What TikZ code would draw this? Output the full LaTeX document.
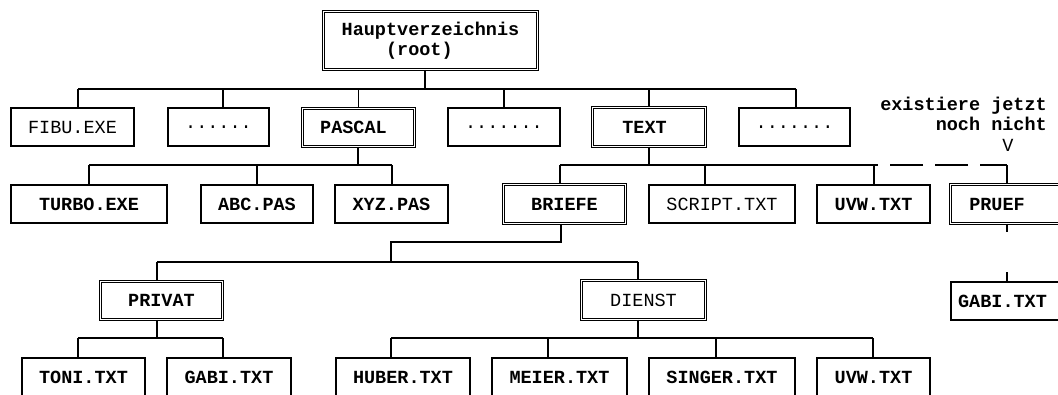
\documentclass[tikz,border=0pt]{standalone}
\usepackage{fontspec}
\setmainfont{Liberation Mono}
\newcommand{\fsz}{\fontsize{18.5}{20}\selectfont}
\tikzset{
  fbox/.style={draw, line width=1.1pt, inner sep=0pt, font=\fsz},
  dbox/.style={draw, double, line width=0.9pt, double distance=1.6pt, inner sep=0pt, font=\fsz},
  conn/.style={line width=1.1pt},
  gapline/.style={line width=1.1pt, dash pattern=on 33pt off 12pt, dash phase=6pt},
  note/.style={inner sep=0pt, font=\fsz\bfseries},
}
\begin{document}
\begin{tikzpicture}[x=1pt,y=-1pt]
\useasboundingbox (0,0) rectangle (1058,394);
\clip (0,0) rectangle (1058,394);
\fill[white] (0,0) rectangle (1058,394);

% level 0
\node[dbox, minimum width=214pt, minimum height=58pt, align=left] (root) at (430.5,40.5)
  {\bfseries Hauptverzeichnis\\\bfseries\phantom{Haup}(root)};

% level 1
\node[fbox, minimum width=123pt, minimum height=38pt] (fibu) at (72.5,127) {FIBU.EXE};
\node[fbox, minimum width=101pt, minimum height=38pt] (dotsa) at (218.5,127) {......};
\node[dbox, minimum width=112pt, minimum height=38pt] (pascal) at (358.5,127.5) {\bfseries PASCAL\hspace*{10pt}};
\node[fbox, minimum width=112pt, minimum height=38pt] (dotsb) at (504,127) {.......};
\node[dbox, minimum width=113pt, minimum height=39pt] (text) at (649,127) {\bfseries TEXT\hspace*{9pt}};
\node[fbox, minimum width=111pt, minimum height=38pt] (dotsc) at (794.5,127) {.......};

% level 2
\node[fbox, minimum width=156pt, minimum height=38pt] (turbo) at (89,204) {\bfseries TURBO.EXE};
\node[fbox, minimum width=112pt, minimum height=38pt] (abc) at (257,204) {\bfseries ABC.PAS};
\node[fbox, minimum width=113pt, minimum height=38pt] (xyz) at (391.5,204) {\bfseries XYZ.PAS};
\node[dbox, minimum width=122pt, minimum height=39pt] (briefe) at (564.5,204) {\bfseries BRIEFE};
\node[fbox, minimum width=146pt, minimum height=38pt] (script) at (722,204) {SCRIPT.TXT};
\node[fbox, minimum width=113pt, minimum height=38pt] (uvwa) at (873.5,204) {\bfseries UVW.TXT};
\node[dbox, minimum width=113pt, minimum height=39pt] (pruef) at (1007,204) {\bfseries PRUEF\hspace*{20pt}};

% note above PRUEF
\node[note, align=right, anchor=north east] (exist) at (1047,97) {existiere jetzt\\noch nicht};
\node[inner sep=0pt, font=\fsz] (vmark) at (1008,145) {V};

% level 3
\node[dbox, minimum width=122pt, minimum height=38pt] (privat) at (161.5,300.5) {\bfseries PRIVAT};
\node[dbox, minimum width=124pt, minimum height=39pt] (dienst) at (643.5,300) {DIENST};
\node[fbox, minimum width=112pt, minimum height=38pt] (gabib) at (1007,301) {\bfseries GABI.TXT\hspace*{9pt}};

% level 4
\node[fbox, minimum width=123pt, minimum height=38pt] (toni) at (83.5,377) {\bfseries TONI.TXT};
\node[fbox, minimum width=124pt, minimum height=38pt] (gabia) at (229,377) {\bfseries GABI.TXT};
\node[fbox, minimum width=134pt, minimum height=38pt] (huber) at (403,377) {\bfseries HUBER.TXT};
\node[fbox, minimum width=135pt, minimum height=38pt] (meier) at (559.5,377) {\bfseries MEIER.TXT};
\node[fbox, minimum width=146pt, minimum height=38pt] (singer) at (722,377) {\bfseries SINGER.TXT};
\node[fbox, minimum width=113pt, minimum height=38pt] (uvwb) at (873.5,377) {\bfseries UVW.TXT};

% bus coordinates
\coordinate (busaL) at (78,89);   \coordinate (busaR) at (796,89);
\coordinate (busbL) at (89,165);  \coordinate (busbR) at (392,165);
\coordinate (buscL) at (560,165); \coordinate (buscR) at (878,165);
\coordinate (buscD) at (1007,165);
\coordinate (jog) at (391,242);   \coordinate (jogb) at (391,262);
\coordinate (busdL) at (157,262); \coordinate (busdR) at (638,262);
\coordinate (buseL) at (78,338);  \coordinate (buseR) at (223,338);
\coordinate (busfL) at (391,338); \coordinate (busfR) at (873,338);
\coordinate (pstub) at (1007,232); \coordinate (gstub) at (1007,272);

% root -> level 1
\draw[conn] ([xshift=-5.5pt]root.south) |- (busaL);
\draw[conn] (busaL) -- (busaR);
\draw[conn] ([xshift=5.5pt]fibu.north) |- (busaL);
\draw[conn] ([xshift=4.5pt]dotsa.north) |- (busaL);
\draw[conn] (pascal.north) |- (busaL);
\draw[conn] (dotsb.north) |- (busaL);
\draw[conn] (text.north) |- (busaL);
\draw[conn] ([xshift=1.5pt]dotsc.north) |- (busaR);

% PASCAL -> level 2
\draw[conn] ([xshift=-0.5pt]pascal.south) |- (busbL);
\draw[conn] (busbL) -- (busbR);
\draw[conn] (turbo.north) |- (busbL);
\draw[conn] (abc.north) |- (busbL);
\draw[conn] ([xshift=0.5pt]xyz.north) |- (busbR);

% TEXT -> level 2
\draw[conn] (text.south) |- (buscL);
\draw[conn] (buscL) -- (buscR);
\draw[gapline] (buscD) -- (buscR);
\draw[conn] ([xshift=-4.5pt]briefe.north) |- (buscL);
\draw[conn] ([xshift=-17pt]script.north) |- (buscL);
\draw[conn] ([xshift=0.5pt]uvwa.north) |- (buscR);
\draw[conn] (pruef.north) -- (buscD);

% PRUEF -> GABI (interrupted)
\draw[conn] (pruef.south) -- (pstub);
\draw[conn] (gabib.north) -- (gstub);

% BRIEFE -> level 3
\draw[conn] ([xshift=-3.5pt]briefe.south) |- (jog) -- (jogb);
\draw[conn] (busdL) -- (busdR);
\draw[conn] ([xshift=-4.5pt]privat.north) |- (busdL);
\draw[conn] ([xshift=-5.5pt]dienst.north) |- (busdR);

% PRIVAT -> level 4
\draw[conn] ([xshift=-4.5pt]privat.south) |- (buseL);
\draw[conn] (buseL) -- (buseR);
\draw[conn] ([xshift=-5.5pt]toni.north) |- (buseL);
\draw[conn] ([xshift=-6pt]gabia.north) |- (buseR);

% DIENST -> level 4
\draw[conn] ([xshift=-5.5pt]dienst.south) |- (busfL);
\draw[conn] (busfL) -- (busfR);
\draw[conn] ([xshift=-12pt]huber.north) |- (busfL);
\draw[conn] ([xshift=-11.5pt]meier.north) |- (busfL);
\draw[conn] ([xshift=-6pt]singer.north) |- (busfL);
\draw[conn] ([xshift=-0.5pt]uvwb.north) |- (busfR);
\end{tikzpicture}
\end{document}
